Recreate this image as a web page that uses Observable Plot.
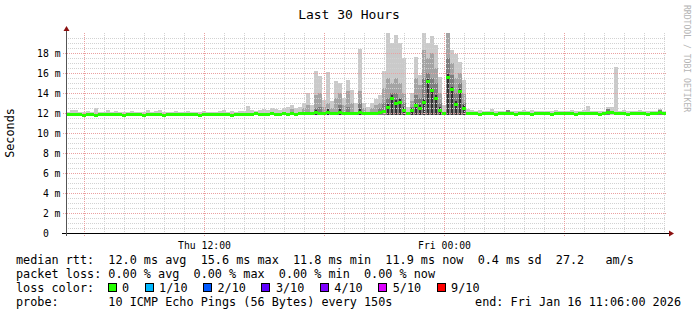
<!DOCTYPE html>
<html>
<head>
<meta charset="utf-8">
<script src="https://cdn.jsdelivr.net/npm/d3@7"></script>
<script src="https://cdn.jsdelivr.net/npm/@observablehq/plot@0.6"></script>
<style>
html, body { margin: 0; padding: 0; background: #fff; }
#chart svg { display: block; }
</style>
</head>
<body>
<div id="chart"></div>
<script>
// ---------- data ----------
const chartTitle = "Last 30 Hours";
const yAxisTitle = "Seconds";
const sideCredit = "RRDTOOL / TOBI OETIKER";
const startTime = new Date(Date.UTC(2026, 0, 15, 5, 6));
const endTime = new Date(Date.UTC(2026, 0, 16, 11, 6));
const stepMinutes = 12;          // one sample every 12 minutes (150 samples over 30 h)
const smokeFloor = 11.8;         // "11.8 ms min"

// median RTT per sample (ms)
const medianRtt = [
  11.9,11.9,11.9,11.9,11.8,11.9,11.9,11.8,11.9,11.9,
  11.9,11.9,11.9,11.9,11.8,11.9,11.9,11.9,11.9,11.8,
  11.9,11.9,11.9,11.9,11.8,11.9,11.9,11.9,11.9,11.9,
  11.9,11.9,11.9,11.8,11.9,11.9,11.9,11.9,11.9,11.9,
  11.9,11.8,11.9,11.9,11.9,11.9,11.9,12.0,11.9,11.9,
  11.9,12.0,11.9,11.9,12.0,11.9,12.0,11.9,12.0,12.0,
  12.0,12.0,12.1,12.0,12.0,12.1,12.0,12.0,12.1,12.0,
  12.0,12.0,12.0,12.1,12.0,12.0,12.0,12.0,12.1,12.2,
  12.6,13.5,13.0,13.1,12.3,12.0,12.3,12.8,12.5,13.1,
  15.2,14.3,13.5,12.3,12.0,15.6,14.4,12.9,14.2,12.5,
  12.0,12.0,12.0,11.9,12.0,12.0,12.0,11.9,12.0,12.0,
  12.0,12.0,11.9,12.0,12.0,12.0,11.9,12.0,12.0,12.0,
  12.0,11.9,12.0,12.0,12.0,12.0,12.0,11.9,12.0,12.0,
  12.0,12.0,12.0,11.9,12.0,12.1,12.1,12.0,12.0,12.0,
  11.9,12.0,12.0,12.0,12.0,11.9,12.0,12.0,12.1,12.0
];
// outermost smoke band top (max ping, ms)
const smokeMax = [
  12.1,12.3,12.3,12.1,12.1,12.2,12.1,12.5,12.1,12.1,
  12.3,12.1,12.2,12.1,12.1,12.1,12.2,12.1,12.1,12.1,
  12.3,12.1,12.2,12.3,12.1,12.1,12.1,12.2,12.1,12.1,
  12.2,12.1,12.1,12.1,12.2,12.1,12.1,12.1,12.2,12.3,
  12.1,12.2,12.1,12.2,12.2,12.7,12.3,12.2,12.3,12.4,
  12.3,12.5,12.4,12.3,12.5,12.6,12.8,12.5,12.6,13.0,
  14.0,12.8,16.2,15.7,13.3,16.1,13.2,15.2,15.0,13.5,
  15.3,14.3,13.0,18.4,13.0,12.6,13.0,13.4,13.8,16.2,
  20.0,19.0,19.8,19.0,17.5,12.6,14.0,17.6,15.8,20.0,
  19.0,19.7,18.8,15.6,12.8,20.0,18.3,17.9,17.1,15.3,
  12.4,12.3,12.2,12.3,12.2,12.2,12.4,12.2,12.2,12.2,
  12.3,12.2,12.2,12.2,12.3,12.2,12.3,12.2,12.2,12.2,
  12.2,12.2,12.3,12.2,12.2,12.2,12.3,12.2,12.2,12.3,
  12.7,12.2,12.2,12.2,12.2,12.6,12.6,16.6,12.2,12.3,
  12.2,12.2,12.2,12.3,12.2,12.2,12.2,12.2,12.4,12.2
];
// second smoke band top (ms)
const smokeMid = [
  null,null,null,null,null,null,null,null,null,null,
  null,null,null,null,null,null,null,null,null,null,
  null,null,null,null,null,null,null,null,null,null,
  null,null,null,null,null,null,null,null,null,null,
  null,null,null,null,null,null,null,null,null,null,
  null,null,null,null,null,null,12.4,null,null,12.5,
  12.8,null,13.8,14.0,12.6,13.0,12.5,13.5,14.0,12.8,
  14.2,13.0,null,14.2,12.5,null,12.5,12.8,13.0,14.5,
  15.5,15.0,15.5,15.0,14.0,null,13.2,15.5,14.8,18.3,
  17.5,18.0,16.5,14.0,null,20.0,17.0,15.5,16.0,14.0,
  null,null,null,null,null,null,null,null,null,null,
  null,null,null,null,null,null,null,null,null,null,
  null,null,null,null,null,null,null,null,null,null,
  null,null,null,null,null,null,null,null,null,null,
  null,null,null,null,null,null,null,null,null,null
];
// third smoke band top (ms)
const smokeDark = [
  null,null,null,null,null,null,null,null,null,null,
  null,null,null,null,null,null,null,null,null,null,
  null,null,null,null,null,null,null,null,null,null,
  null,null,null,null,null,null,null,null,null,null,
  null,null,null,null,null,null,null,null,null,null,
  null,null,null,null,null,null,null,null,null,null,
  null,null,12.5,12.6,null,null,null,null,12.8,null,
  12.6,null,null,13.0,null,null,null,null,12.5,13.0,
  13.5,14.0,14.0,13.5,13.0,null,12.6,13.8,13.5,15.5,
  16.0,15.5,15.0,13.0,null,17.5,15.8,14.0,15.0,13.0,
  null,null,null,null,null,null,null,null,null,null,
  12.3,null,null,null,null,null,null,null,null,null,
  null,null,null,null,null,null,null,null,null,null,
  null,null,null,null,null,12.4,null,null,null,null,
  null,null,null,null,null,null,null,null,12.3,null
];
// innermost smoke band top (ms)
const smokeCore = [
  null,null,null,null,null,null,null,null,null,null,
  null,null,null,null,null,null,null,null,null,null,
  null,null,null,null,null,null,null,null,null,null,
  null,null,null,null,null,null,null,null,null,null,
  null,null,null,null,null,null,null,null,null,null,
  null,null,null,null,null,null,null,null,null,null,
  null,null,12.3,null,null,12.4,null,null,12.4,null,
  null,null,null,12.4,null,null,null,null,null,null,
  12.9,13.8,13.3,13.4,12.6,null,12.5,13.0,12.8,13.4,
  15.4,14.5,13.8,12.6,null,15.9,14.6,13.2,14.4,12.8,
  null,null,null,null,null,null,null,null,null,null,
  null,null,null,null,null,null,null,null,null,null,
  null,null,null,null,null,null,null,null,null,null,
  null,null,null,null,null,null,null,null,null,null,
  null,null,null,null,null,null,null,null,null,null
];

const yTickValues = [0, 2, 4, 6, 8, 10, 12, 14, 16, 18];
const xLabelTimes = [new Date(Date.UTC(2026, 0, 15, 12, 0)), new Date(Date.UTC(2026, 0, 16, 0, 0))];

const rttStats = [["12.0 ms", "avg"], ["15.6 ms", "max"], ["11.8 ms", "min"], ["11.9 ms", "now"], ["0.4 ms", "sd"]];
const rttAmS = "27.2";
const lossStats = [["0.00 %", "avg"], ["0.00 %", "max"], ["0.00 %", "min"], ["0.00 %", "now"]];
const lossLabels = ["0", "1/10", "2/10", "3/10", "4/10", "5/10", "9/10"];
const lossColors = ["#26ff00", "#00b8ff", "#0059ff", "#5e00ff", "#7e00ff", "#dd00ff", "#ff0000"];
const probeText = "10 ICMP Echo Pings (56 Bytes) every 150s";
const endText = "end: Fri Jan 16 11:06:00 2026";

// ---------- sanity ----------
for (const [n, a] of Object.entries({smokeMax, smokeMid, smokeDark, smokeCore})) {
  if (a.length !== medianRtt.length) throw new Error(n + " length " + a.length + " vs " + medianRtt.length);
}

// ---------- build ----------
const rows = medianRtt.map((m, i) => ({
  t0: d3.utcMinute.offset(startTime, i * stepMinutes),
  t1: d3.utcMinute.offset(startTime, (i + 1) * stepMinutes),
  med: m, hi: smokeMax[i], mid: smokeMid[i], dk: smokeDark[i], core: smokeCore[i]
}));
const hours = d3.utcHour.range(startTime, endTime);
const majorX = hours.filter(d => d.getUTCHours() % 6 === 0);
const minorX = hours.filter(d => d.getUTCHours() % 6 !== 0);
const majorY = yTickValues.filter(v => v > 0);
const minorY = d3.range(0.5, 20.01, 0.5).filter(v => v % 2 !== 0);

const mono = "DejaVu Sans Mono";
const gridMinor = "#d2d2d2";
const gridMajor = "#eba0a0";
const arrowColor = "#8b1010";
const legendSize = 11.8;
const charW = 7.1;

const plot = Plot.plot({
  width: 697, height: 315,
  marginLeft: 66, marginRight: 31, marginTop: 33, marginBottom: 82,
  style: {fontFamily: mono, fontSize: "9.75px", background: "#fff", color: "#000", overflow: "visible"},
  x: {type: "utc", domain: [startTime, endTime], label: null},
  y: {domain: [0, 20], label: null},
  marks: [
    Plot.rectY(rows.filter(d => d.hi != null), {x1: "t0", x2: "t1", y1: smokeFloor, y2: "hi", fill: "#cacaca"}),
    Plot.rectY(rows.filter(d => d.mid != null), {x1: "t0", x2: "t1", y1: smokeFloor, y2: "mid", fill: "#a4a4a4"}),
    Plot.rectY(rows.filter(d => d.dk != null), {x1: "t0", x2: "t1", y1: smokeFloor, y2: "dk", fill: "#7e7e7e"}),
    Plot.rectY(rows.filter(d => d.core != null), {x1: "t0", x2: "t1", y1: smokeFloor, y2: "core", fill: "#323232", insetLeft: 1, insetRight: 1}),
    Plot.ruleY(minorY, {stroke: gridMinor, strokeDasharray: "1,1"}),
    Plot.ruleX(minorX, {stroke: gridMinor, strokeDasharray: "1,1"}),
    Plot.ruleY(majorY, {stroke: gridMajor, strokeDasharray: "1,1", insetLeft: -3}),
    Plot.ruleX(majorX, {stroke: gridMajor, strokeDasharray: "1,1", insetBottom: -3}),
    Plot.ruleY(rows, {y: "med", x1: "t0", x2: "t1", stroke: lossColors[0], strokeWidth: 3}),
    Plot.ruleY([0], {stroke: "#000", insetLeft: -4, insetRight: -3}),
    Plot.ruleX([startTime], {stroke: "#555", insetTop: -2, insetBottom: -3}),
    Plot.axisY(yTickValues, {tickSize: 0, tickPadding: 6, fontSize: 9.75,
      tickFormat: d => d === 0 ? "0\u00a0\u00a0" : d + " m"}),
    Plot.axisX(xLabelTimes, {tickSize: 0, tickPadding: 9, fontSize: 9.75,
      tickFormat: d3.utcFormat("%a %H:%M")})
  ]
});
document.getElementById("chart").appendChild(plot);

// ---------- decorations & legend ----------
const svg = d3.select(plot);
const xs = plot.scale("x"), ys = plot.scale("y");
const ax = Math.round(xs.apply(startTime)) + 0.5;
const ay = Math.round(ys.apply(0)) + 0.5;
const topY = ys.apply(20);
const rightX = xs.apply(endTime);

// arrows
svg.append("path").attr("fill", arrowColor)
  .attr("d", `M${ax - 3},${topY - 2} L${ax},${topY - 7} L${ax + 3},${topY - 2} Z`);
svg.append("path").attr("fill", arrowColor)
  .attr("d", `M${rightX + 3},${ay - 3} L${rightX + 8},${ay} L${rightX + 3},${ay + 3} Z`);

// title
svg.append("text").attr("x", 349).attr("y", 18.5).attr("text-anchor", "middle")
  .attr("font-family", mono).attr("font-size", 13).attr("fill", "#000").text(chartTitle);

// y axis title
svg.append("text").attr("transform", `translate(13.5,${(ys.apply(0) + topY) / 2}) rotate(-90)`)
  .attr("text-anchor", "middle").attr("font-family", mono).attr("font-size", legendSize)
  .attr("fill", "#000").text(yAxisTitle);

// side credit
svg.append("text").attr("transform", "translate(684,5) rotate(90)")
  .attr("text-anchor", "start")
  .attr("font-family", mono).attr("font-size", 8.1).attr("fill", "#b4b4b4").text(sideCredit);

// legend
const lg = svg.append("g").attr("font-family", mono).attr("font-size", legendSize).attr("fill", "#000")
  .attr("text-anchor", "start").style("white-space", "pre");
const rowY = [264, 278, 292, 306];
const line1 = "median rtt:  " + rttStats.map(([v, k]) => v + " " + k).join("  ") + "  " + rttAmS + "   am/s";
const line2 = "packet loss: " + lossStats.map(([v, k]) => v + " " + k).join("  ");
lg.append("text").attr("x", 16).attr("y", rowY[0]).attr("xml:space", "preserve").text(line1);
lg.append("text").attr("x", 16).attr("y", rowY[1]).attr("xml:space", "preserve").text(line2);
lg.append("text").attr("x", 16).attr("y", rowY[2]).text("loss color:");
let bx = 16 + 13 * 7.0 + 0.5;
lossLabels.forEach((lab, k) => {
  lg.append("rect").attr("x", Math.round(bx) + 0.5).attr("y", rowY[2] - 8.5)
    .attr("width", 8).attr("height", 8).attr("fill", lossColors[k])
    .attr("stroke", "#000").attr("stroke-width", 1);
  const tx = bx + 14.5;
  lg.append("text").attr("x", tx).attr("y", rowY[2]).text(lab);
  bx = tx + lab.length * charW + 15.5;
});
lg.append("text").attr("x", 16).attr("y", rowY[3]).attr("xml:space", "preserve")
  .text("probe:       " + probeText);
lg.append("text").attr("x", 681).attr("y", rowY[3]).attr("text-anchor", "end").text(endText);
</script>
</body>
</html>
